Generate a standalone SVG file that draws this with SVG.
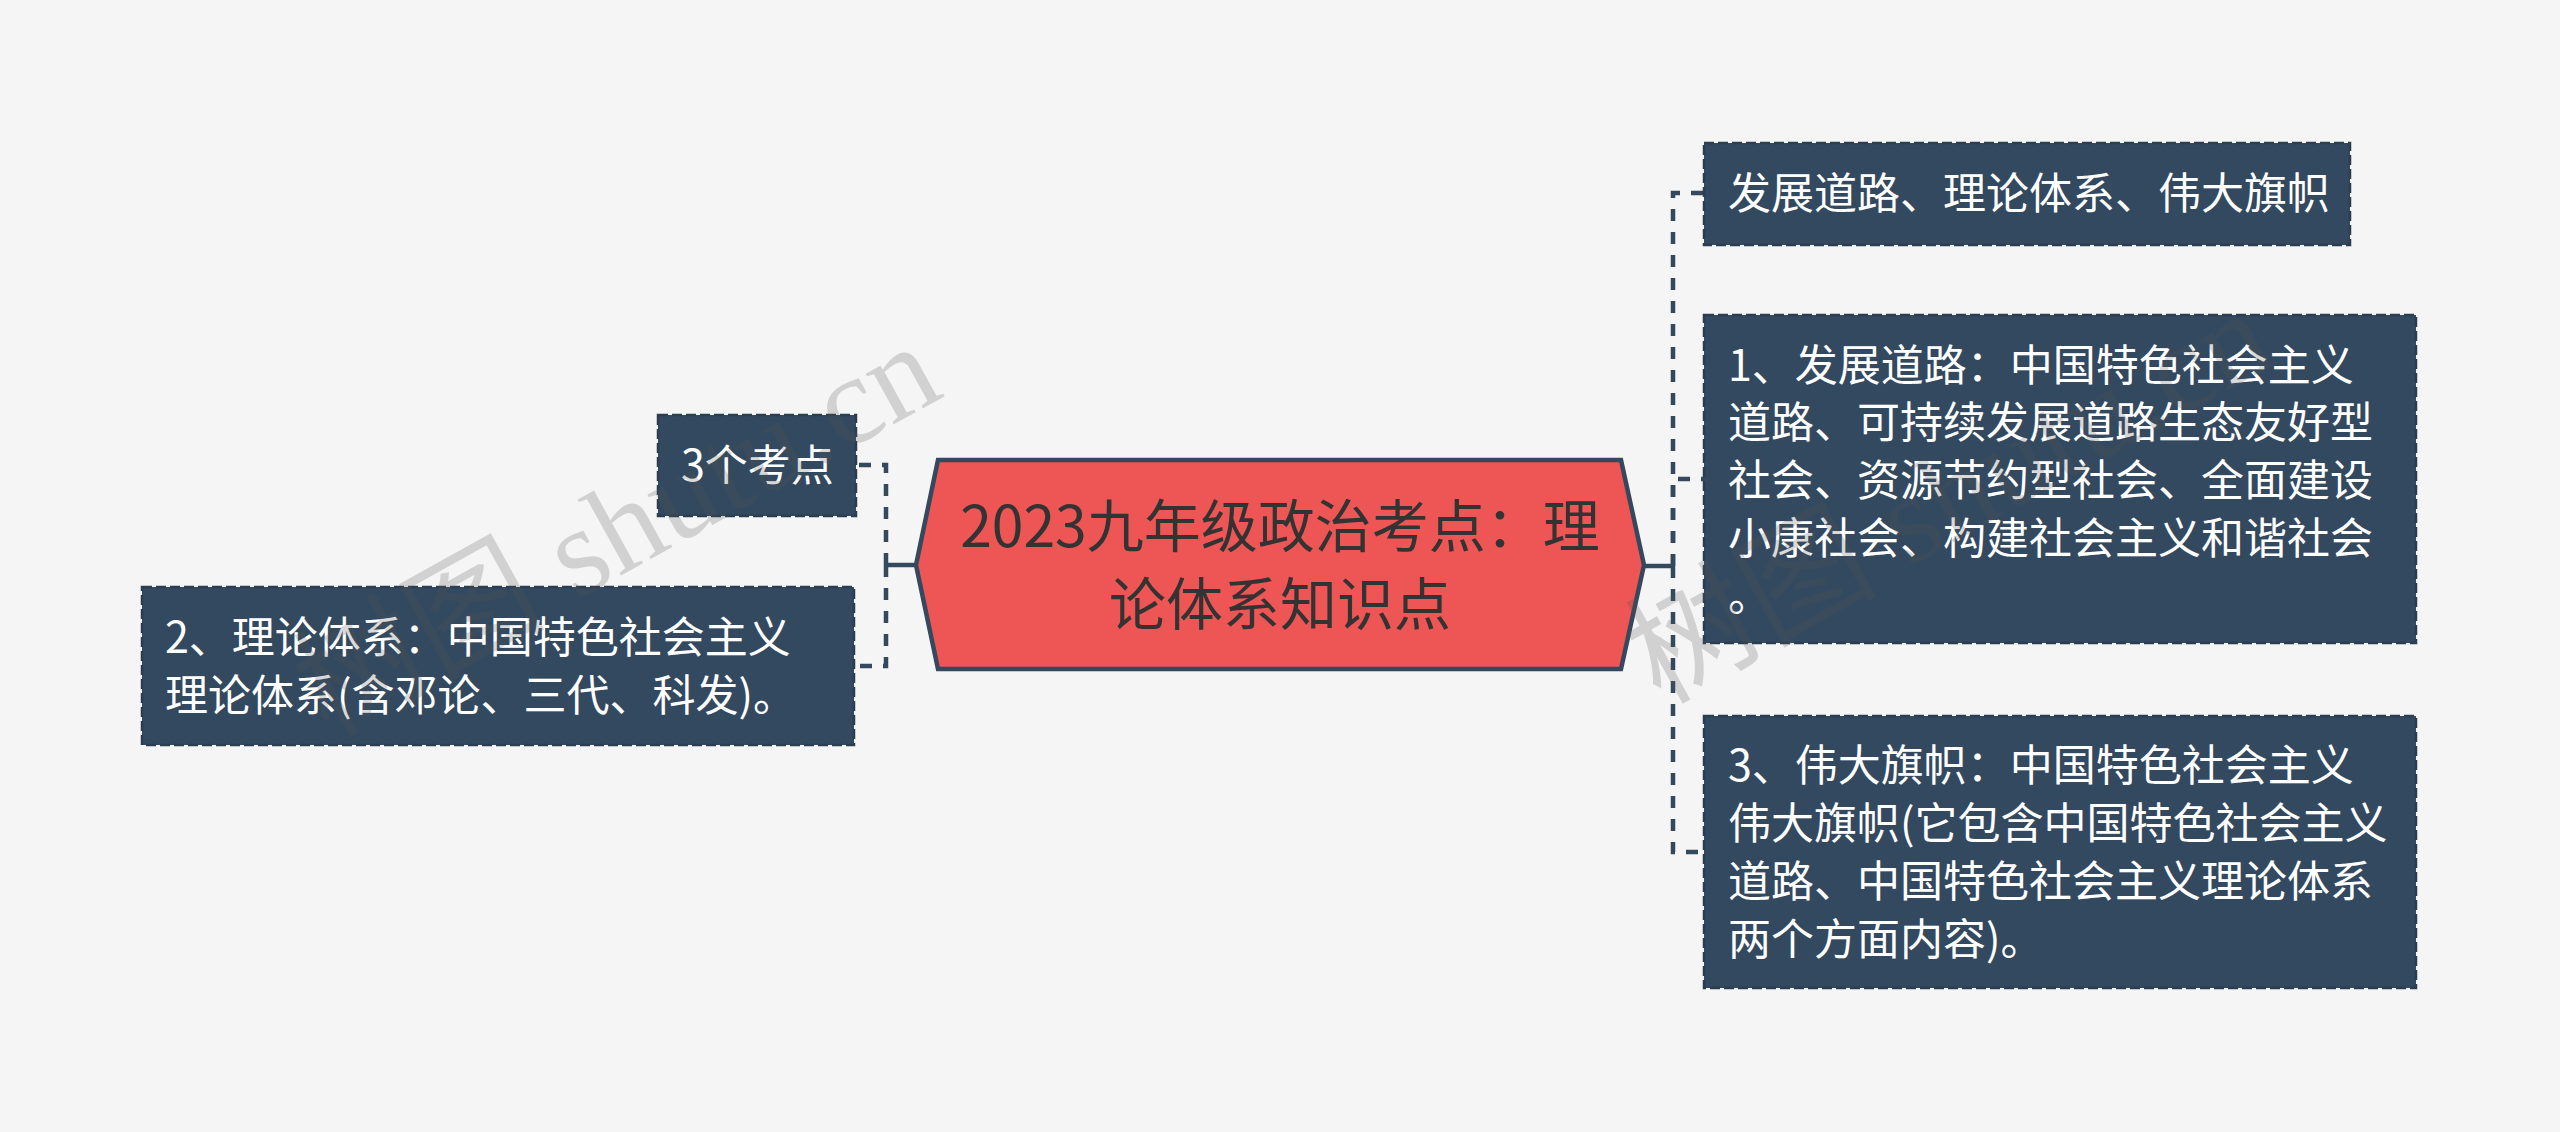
<svg xmlns="http://www.w3.org/2000/svg" width="2560" height="1132" viewBox="0 0 2560 1132">
<style>
.bg{fill:#f5f5f5}
.box{fill:#33495f;stroke:#2b3d50;stroke-width:2.5;stroke-dasharray:10 4}
.bt{fill:#ffffff;font-family:"Noto Sans CJK SC","Noto Sans",sans-serif;font-size:43px}
.ct{fill:#333333;font-family:"Noto Sans CJK SC","Noto Sans",sans-serif;font-size:57px;text-anchor:middle}
.solid{fill:none;stroke:#34495e;stroke-width:4.5}
.dash{fill:none;stroke:#34495e;stroke-width:4.5;stroke-dasharray:12 11}
.wm{fill:#555555;opacity:0.22;font-family:"Liberation Serif","Noto Sans CJK SC",serif;font-size:126px}
</style>
<rect class="bg" x="0" y="0" width="2560" height="1132"/>
<g id="connectors">
<path class="solid" d="M916,565 H886"/>
<path class="dash" d="M886,565 V465 H856"/>
<path class="dash" d="M886,565 V666 H854"/>
<path class="solid" d="M1644,566 H1673"/>
<path class="dash" d="M1673,566 V193 H1704"/>
<path class="dash" d="M1673,566 V479 H1704"/>
<path class="dash" d="M1673,566 V852 H1704"/>
</g>
<g id="center">
<polygon points="916,565 938,460 1621,460 1644,565 1621,669 938,669" fill="#ee5555" stroke="#34495e" stroke-width="4.5"/>
<text class="ct" x="1280" y="547">2023九年级政治考点：理</text>
<text class="ct" x="1280" y="625">论体系知识点</text>
</g>
<g id="node-l1">
<rect class="box" x="658" y="415" width="198" height="101"/>
<text class="bt" x="681" y="481">3个考点</text>
</g>
<g id="node-l2">
<rect class="box" x="142" y="587" width="712" height="158"/>
<text class="bt" x="165" y="653">2、理论体系：中国特色社会主义</text>
<text class="bt" x="165" y="711">理论体系(含邓论、三代、科发)。</text>
</g>
<g id="node-r0">
<rect class="box" x="1704" y="143" width="646" height="102"/>
<text class="bt" x="1728" y="209">发展道路、理论体系、伟大旗帜</text>
</g>
<g id="node-r1">
<rect class="box" x="1704" y="315" width="712" height="328"/>
<text class="bt" x="1728" y="381">1、发展道路：中国特色社会主义</text>
<text class="bt" x="1728" y="438">道路、可持续发展道路生态友好型</text>
<text class="bt" x="1728" y="496">社会、资源节约型社会、全面建设</text>
<text class="bt" x="1728" y="554">小康社会、构建社会主义和谐社会</text>
<text class="bt" x="1728" y="611">。</text>
</g>
<g id="node-r3">
<rect class="box" x="1704" y="716" width="712" height="272"/>
<text class="bt" x="1728" y="781">3、伟大旗帜：中国特色社会主义</text>
<text class="bt" x="1728" y="839">伟大旗帜(它包含中国特色社会主义</text>
<text class="bt" x="1728" y="897">道路、中国特色社会主义理论体系</text>
<text class="bt" x="1728" y="955">两个方面内容)。</text>
</g>
<g id="watermark">
<text class="wm" transform="translate(328,738) rotate(-29)">树图 shutu.cn</text>
<text class="wm" transform="translate(1660,705) rotate(-29)">树图 shutu.cn</text>
</g>
</svg>
